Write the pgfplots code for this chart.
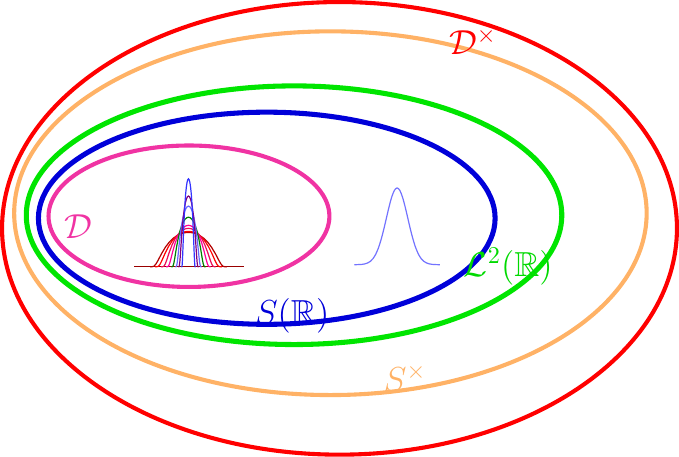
\documentclass[border=0pt]{standalone}
\usepackage{pgfplots}
\usepackage{pgfplotstable}
\usepackage{amssymb}
\pgfplotsset{compat=1.18}
\pgfplotstableread{
t f
-1 0
-0.95 0.0001
-0.9 0.0141
-0.85 0.074
-0.8 0.169
-0.75 0.276
-0.7 0.383
-0.6 0.570
-0.5 0.717
-0.4 0.827
-0.3 0.906
-0.2 0.959
-0.1 0.990
0 1
0.1 0.990
0.2 0.959
0.3 0.906
0.4 0.827
0.5 0.717
0.6 0.570
0.7 0.383
0.75 0.276
0.8 0.169
0.85 0.074
0.9 0.0141
0.95 0.0001
1 0
}\bump
\pgfplotstableread{
t f
-4 0.0003
-3.5 0.0022
-3.25 0.0051
-3 0.0111
-2.75 0.0228
-2.5 0.0439
-2.25 0.0796
-2 0.1353
-1.75 0.2163
-1.5 0.3247
-1.25 0.4578
-1 0.6065
-0.75 0.7548
-0.5 0.8825
-0.25 0.9692
0 1
0.25 0.9692
0.5 0.8825
0.75 0.7548
1 0.6065
1.25 0.4578
1.5 0.3247
1.75 0.2163
2 0.1353
2.25 0.0796
2.5 0.0439
2.75 0.0228
3 0.0111
3.25 0.0051
3.5 0.0022
4 0.0003
}\gauss
\newcommand{\bumpplot}[4]{\addplot[#1, line width=0.5pt] table[x expr={190.5+#2*\thisrow{t}}, y expr={191+#3*\thisrow{f}}] {\bump};}
\begin{document}
\begin{tikzpicture}
\begin{axis}[scale only axis, width=10cm, height=6.76cm,
  xmin=0, xmax=679, ymin=0, ymax=459, axis lines=none, clip=false]
% ellipses (centre, radii in pixel units, y measured up)
\draw[red, line width=1.7pt] (axis cs:340,229) ellipse [x radius=334, y radius=224];
\draw[orange!60!white, line width=1.7pt] (axis cs:331,244) ellipse [x radius=313, y radius=180];
\draw[green!90!black, line width=2.1pt] (axis cs:295,242) ellipse [x radius=265, y radius=128];
\draw[blue!85!black, line width=2.1pt] (axis cs:268,239) ellipse [x radius=226, y radius=105];
\draw[magenta!80, line width=1.7pt] (axis cs:191,241) ellipse [x radius=139, y radius=70];
% baseline of bumps
\addplot[red!60!black, line width=0.5pt] coordinates {(137,191) (245,191)};
\bumpplot{red!70!black}{38}{34}{}
\bumpplot{red}{33}{35}{}
\bumpplot{magenta!50!red}{27}{38}{}
\bumpplot{red!40!magenta}{22}{41}{}
\bumpplot{green!50!black}{17}{49}{}
\bumpplot{blue!60}{13}{60}{}
\bumpplot{violet}{10}{70}{}
\bumpplot{blue!80}{7}{87}{}
% gaussian
\addplot[blue!55, line width=0.5pt, smooth] table[x expr={397+10.6*\thisrow{t}}, y expr={193+76*\thisrow{f}}] {\gauss};
% labels
\node[red] at (axis cs:472,414) {\Large$\mathcal{D}^{\times}$};
\node[orange!60!white] at (axis cs:405,81) {\Large$S^{\times}$};
\node[green!85!black] at (axis cs:507,191) {\Large$\mathcal{L}^{2}(\mathbb{R})$};
\node[blue!85!black] at (axis cs:293,142) {\Large$S(\mathbb{R})$};
\node[magenta!80] at (axis cs:82,231) {\Large$\mathcal{D}$};
\end{axis}
\end{tikzpicture}
\end{document}
